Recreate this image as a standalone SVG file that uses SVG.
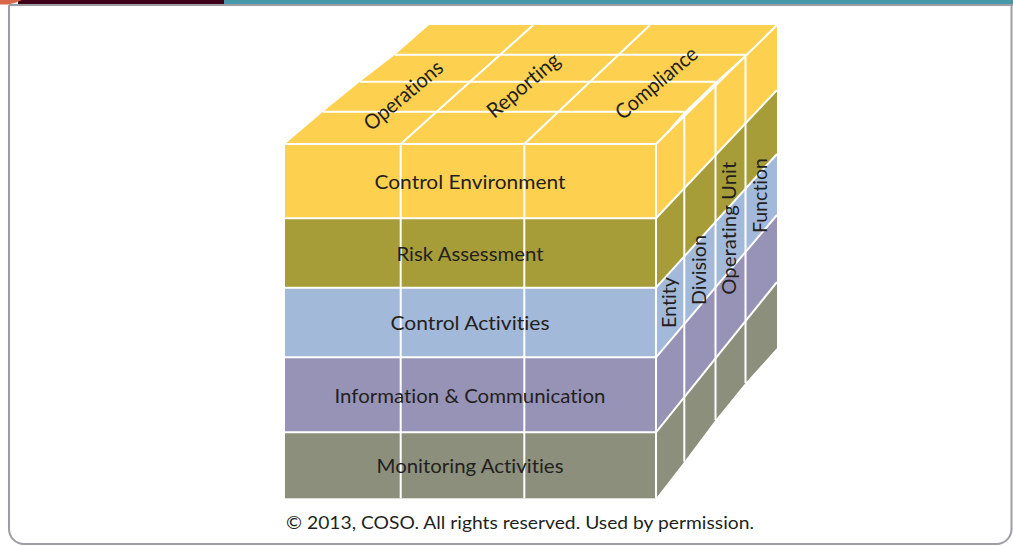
<svg xmlns="http://www.w3.org/2000/svg" width="1013" height="546" viewBox="0 0 1013 546">
<style>
.ce{fill:#FDD14F}
.ra{fill:#A79D38}
.ca{fill:#A2B9DA}
.ic{fill:#9793B7}
.ma{fill:#8C8F7C}
.grid line{stroke:#FFFFFF;stroke-width:2;fill:none}
.lbl{font-family:Lato,"Liberation Sans",sans-serif;font-size:20px;fill:#231F20;text-anchor:middle;font-variant-ligatures:none}
.top{font-size:21px}
.copy{font-family:Lato,"Liberation Sans",sans-serif;font-size:17px;fill:#231F20;text-anchor:middle;font-variant-ligatures:none}
</style>
<rect x="0" y="0" width="1013" height="546" fill="#FFFFFF"/>
<g id="header">
<rect x="224" y="0" width="789" height="4.5" fill="#4699A8"/>
<rect x="18" y="0" width="206" height="4.5" fill="#3E0018"/>
<path d="M0,0 H22 Q16,3 8,4.5 H0 Z" fill="#D9684A"/>
</g>
<path id="frame" d="M9,5 V529 A15,15 0 0 0 24,544 H996.5 A15,15 0 0 0 1011.5,529 V5 M9,5 H1013" fill="none" stroke="#9D9DA3" stroke-width="2"/>

<g id="top-face">
<polygon class="ce" points="285,144 656,144 684.3,111.7 715.5,81.7 745.5,54.7 777,25 429,25 395,54.7 360,81.7 323,111.7"/>
</g>
<g id="control-environment">
<rect class="ce" x="285" y="144" width="371" height="74.3"/>
<polygon class="ce" points="656,144 777,25 777,90 656,218.3"/>
</g>
<g id="risk-assessment">
<rect class="ra" x="285" y="218.3" width="371" height="69.4"/>
<polygon class="ra" points="656,218.3 777,90 777,154 656,287.7"/>
</g>
<g id="control-activities">
<rect class="ca" x="285" y="287.7" width="371" height="69.6"/>
<polygon class="ca" points="656,287.7 777,154 777,215 656,357.3"/>
</g>
<g id="information-communication">
<rect class="ic" x="285" y="357.3" width="371" height="75"/>
<polygon class="ic" points="656,357.3 777,215 777,282 656,432.3"/>
</g>
<g id="monitoring-activities">
<rect class="ma" x="285" y="432.3" width="371" height="66"/>
<polygon class="ma" points="656,432.3 777,282 777,348 745.5,383 715.5,420 684.3,461.7 656,498.3"/>
</g>

<g id="grid-lines" class="grid">
<line x1="285" y1="144" x2="656" y2="144"/>
<line x1="323" y1="111.7" x2="684.3" y2="111.7"/>
<line x1="360" y1="81.7" x2="715.5" y2="81.7"/>
<line x1="395" y1="54.7" x2="745.5" y2="54.7"/>
<line x1="400.7" y1="144" x2="533.3" y2="25"/>
<line x1="524.3" y1="144" x2="650" y2="25"/>
<line x1="656" y1="144" x2="777" y2="25"/>
<line x1="400.7" y1="144" x2="400.7" y2="498.3"/>
<line x1="524.3" y1="144" x2="524.3" y2="498.3"/>
<line x1="656" y1="144" x2="656" y2="498.3"/>
<line x1="684.3" y1="111.7" x2="684.3" y2="461.7"/>
<line x1="715.5" y1="81.7" x2="715.5" y2="420"/>
<line x1="745.5" y1="54.7" x2="745.5" y2="383"/>
<line x1="285" y1="218.3" x2="656" y2="218.3"/>
<line x1="285" y1="287.7" x2="656" y2="287.7"/>
<line x1="285" y1="357.3" x2="656" y2="357.3"/>
<line x1="285" y1="432.3" x2="656" y2="432.3"/>
<line x1="656" y1="218.3" x2="777" y2="90"/>
<line x1="656" y1="287.7" x2="777" y2="154"/>
<line x1="656" y1="357.3" x2="777" y2="215"/>
<line x1="656" y1="432.3" x2="777" y2="282"/>
</g>

<g id="labels">
<text class="lbl" x="470" y="189" textLength="191" lengthAdjust="spacingAndGlyphs">Control Environment</text>
<text class="lbl" x="470" y="260.5" textLength="147" lengthAdjust="spacingAndGlyphs">Risk Assessment</text>
<text class="lbl" x="470" y="330" textLength="159" lengthAdjust="spacingAndGlyphs">Control Activities</text>
<text class="lbl" x="470" y="403" textLength="271" lengthAdjust="spacingAndGlyphs">Information &amp; Communication</text>
<text class="lbl" x="470" y="473" textLength="187" lengthAdjust="spacingAndGlyphs">Monitoring Activities</text>
<text class="lbl top" transform="translate(408,101) rotate(-40)" textLength="96" lengthAdjust="spacingAndGlyphs">Operations</text>
<text class="lbl top" transform="translate(528,91) rotate(-40)" textLength="88" lengthAdjust="spacingAndGlyphs">Reporting</text>
<text class="lbl top" transform="translate(661,88.5) rotate(-40)" textLength="100" lengthAdjust="spacingAndGlyphs">Compliance</text>
<text class="lbl" transform="translate(676,302.5) rotate(-90)" textLength="51" lengthAdjust="spacingAndGlyphs">Entity</text>
<text class="lbl" transform="translate(706,270) rotate(-90)" textLength="70" lengthAdjust="spacingAndGlyphs">Division</text>
<text class="lbl" transform="translate(736,228.3) rotate(-90)" textLength="133" lengthAdjust="spacingAndGlyphs">Operating Unit</text>
<text class="lbl" transform="translate(767,195.5) rotate(-90)" textLength="75" lengthAdjust="spacingAndGlyphs">Function</text>
<text class="copy" x="520" y="529" textLength="468" lengthAdjust="spacingAndGlyphs">© 2013, COSO. All rights reserved. Used by permission.</text>
</g>
</svg>
